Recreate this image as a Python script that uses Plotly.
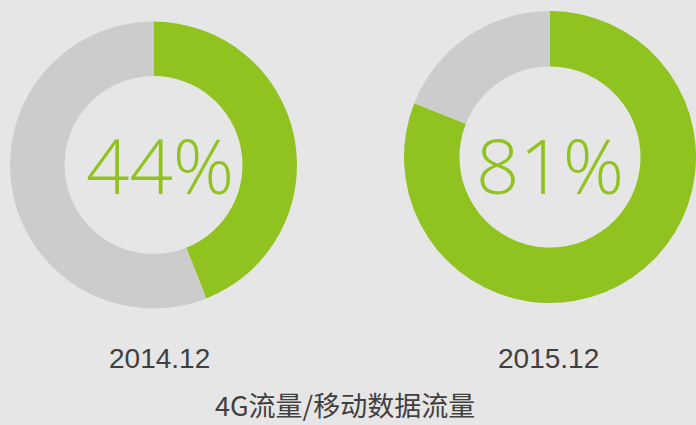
import plotly.graph_objects as go

periods = ["2014.12", "2015.12"]
share_4g = [44, 81]          # 4G traffic share (%)
share_other = [56, 19]       # remaining share (%)
slice_labels = ["4G流量", "其他流量"]
chart_title = "4G流量/移动数据流量"

GREEN = "#90C320"
GRAY = "#CCCCCC"
BG = "#E6E6E6"
W, H = 696, 425

# donut placement (pixel boxes)
domains = [
    dict(x=[10 / W, 297 / W], y=[1 - 308.5 / H, 1 - 21.5 / H]),
    dict(x=[404 / W, 696 / W], y=[1 - 304 / H, 1 - 10 / H]),
]
centers_px = [(160, 164), (550, 164)]
label_px = [(159, 358), (548.5, 358)]

fig = go.Figure()
for i, p in enumerate(periods):
    fig.add_trace(go.Pie(
        labels=slice_labels,
        values=[share_4g[i], share_other[i]],
        hole=0.62,
        sort=False,
        direction="clockwise",
        rotation=0,
        marker=dict(colors=[GREEN, GRAY], line=dict(width=0)),
        textinfo="none",
        hoverinfo="label+percent",
        showlegend=False,
        domain=domains[i],
        name=p,
    ))
    cx, cy = centers_px[i]
    fig.add_annotation(
        x=cx / W, y=1 - cy / H, xref="paper", yref="paper",
        text=f"{share_4g[i]}%", showarrow=False,
        xanchor="center", yanchor="middle",
        font=dict(family="Open Sans", size=76, weight=300, color=GREEN),
    )
    lx, ly = label_px[i]
    fig.add_annotation(
        x=lx / W, y=1 - ly / H, xref="paper", yref="paper",
        text=p, showarrow=False, xanchor="center", yanchor="middle",
        font=dict(family="Liberation Sans, Arial", size=28, color="#404040"),
    )

fig.add_annotation(
    x=345 / W, y=1 - 404 / H, xref="paper", yref="paper",
    text=chart_title, showarrow=False, xanchor="center", yanchor="middle",
    font=dict(family="Noto Sans CJK SC", size=27, color="#404040"),
)

fig.update_layout(
    width=W, height=H,
    margin=dict(l=0, r=0, t=0, b=0),
    paper_bgcolor=BG, plot_bgcolor=BG,
    showlegend=False,
)

fig.write_html(
    "out.html",
    config={"displayModeBar": False},
    post_script="document.body.style.margin='0';document.body.style.background='#E6E6E6';",
)
